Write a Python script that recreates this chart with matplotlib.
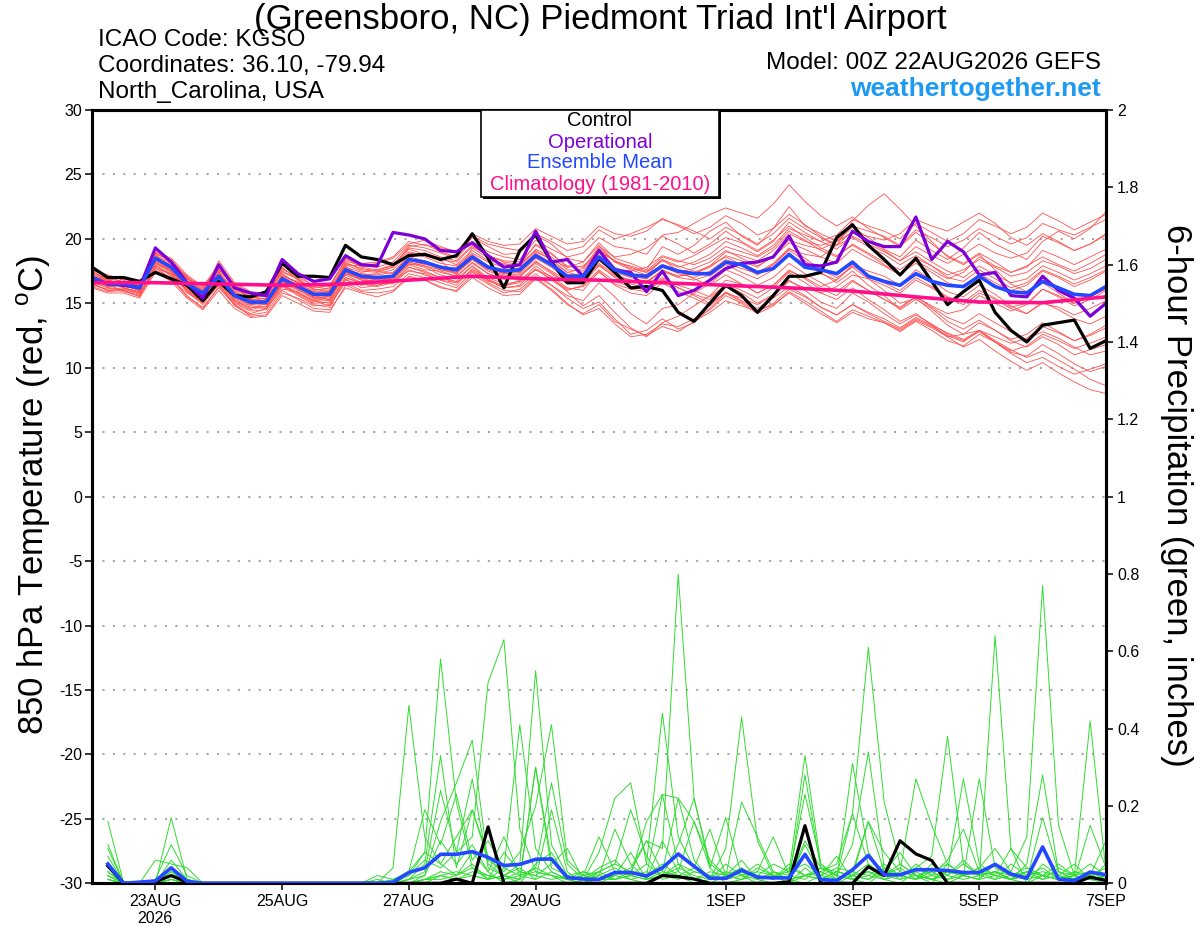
"""GEFS plume for KGSO: 850 hPa temperature (red) and 6-hour precipitation (green)."""
import matplotlib
matplotlib.use("Agg")
import matplotlib.pyplot as plt
from matplotlib.patches import Rectangle

plt.rcParams['font.family'] = ['Liberation Sans', 'DejaVu Sans']
plt.rcParams['mathtext.fontset'] = 'custom'
plt.rcParams['mathtext.rm'] = 'Liberation Sans'
plt.rcParams['axes.unicode_minus'] = False

# forecast hours (6-hourly, 00Z 22AUG2026 to 00Z 7SEP2026)
fhours_temp = list(range(0, 385, 6))
fhours_prcp = list(range(6, 385, 6))

# --- 850 hPa temperature, ensemble members (degC) ---
temp_members = [
    [17.5,16.8,16.2,15.9,18.2,17.5,16.0,15.0,17.5,15.2,14.6,15.0,17.2,16.6,15.4,15.9,
     17.8,17.4,17.6,17.9,19.2,18.8,18.3,17.2,19.3,18.5,18.0,17.9,19.6,18.9,17.8,18.2,
     19.7,18.5,18.1,17.6,19.4,18.8,19.5,20.6,21.3,20.2,19.5,20.8,22.5,21.0,20.4,19.8,
     20.9,20.1,19.2,18.6,19.9,19.1,18.4,19.3,20.5,19.6,19.0,18.4,19.8,20.6,20.0,20.8,22.1],
    [16.3,15.9,16.0,15.5,17.6,17.0,15.5,14.7,16.2,14.9,14.2,14.6,16.1,15.9,15.2,14.8,
     16.9,16.2,16.4,16.8,17.5,17.3,16.8,16.4,17.7,16.9,16.3,16.8,17.6,17.1,16.2,16.0,
     17.5,16.4,15.8,15.6,16.6,15.9,15.4,14.8,15.9,15.2,14.6,15.4,16.3,15.6,14.7,14.1,
     14.9,14.2,13.6,13.0,13.8,13.2,12.5,12.0,12.9,12.1,11.4,10.8,11.3,10.6,9.9,9.1,8.6],
    [17.2,16.6,16.7,16.4,18.9,18.3,16.9,16.4,17.6,16.3,15.4,15.6,17.4,16.9,16.1,16.0,
     18.2,17.6,17.5,17.3,18.8,18.9,18.5,18.0,19.1,18.3,18.1,17.8,19.2,18.6,17.6,17.5,
     19.3,18.2,17.9,17.5,18.6,18.2,18.7,19.4,20.1,19.7,19.0,19.8,21.3,20.5,19.8,19.2,
     20.2,19.6,19.0,18.3,19.4,18.7,18.1,18.8,19.6,18.9,18.5,18.9,20.2,19.7,19.1,19.6,20.3],
    [16.6,16.0,16.1,15.7,17.9,17.2,15.9,14.9,16.5,14.8,14.1,14.3,16.0,15.3,14.6,14.5,
     16.2,15.8,15.5,15.9,17.0,16.8,16.2,16.0,17.2,16.5,15.8,16.1,17.1,16.4,15.6,15.2,
     16.6,15.5,14.2,13.4,14.6,14.9,15.8,16.5,17.6,17.1,16.4,17.0,18.1,17.3,16.6,15.9,
     16.8,16.0,15.3,14.6,15.5,14.7,13.9,13.4,14.2,13.5,12.8,12.2,12.8,12.3,11.6,11.0,11.3],
    [17.6,17.2,16.8,16.3,18.7,18.2,17.1,16.2,17.8,16.0,15.5,15.3,17.1,16.7,16.2,16.4,
     18.3,17.9,17.8,18.2,19.5,19.3,18.9,18.5,19.8,19.0,18.6,18.4,19.9,19.2,18.6,18.9,
     20.1,19.4,19.2,18.8,20.3,20.5,21.2,21.9,22.4,22.0,21.6,22.7,24.2,22.9,21.8,21.0,
     21.7,20.8,20.1,19.4,20.5,19.6,18.7,18.1,18.9,18.2,17.4,17.9,18.6,18.0,17.5,18.1,18.8],
    [16.9,16.3,16.4,16.0,18.4,17.6,16.2,15.6,16.8,15.3,14.8,14.7,16.6,16.0,15.5,15.3,
     17.4,16.8,16.6,16.9,18.1,17.8,17.2,16.9,17.9,17.0,16.5,16.7,17.9,17.0,15.9,14.8,
     15.6,14.3,13.1,12.4,13.5,14.0,14.8,15.6,16.8,16.5,15.8,16.4,17.5,17.0,16.3,16.8,
     18.0,17.5,17.1,16.4,17.6,16.8,15.9,15.5,16.4,15.7,14.8,14.2,15.1,14.5,13.8,13.4,14.0],
    [17.3,16.7,16.5,16.1,18.6,17.9,16.6,15.9,17.3,15.8,15.3,15.2,16.8,16.2,15.6,15.5,
     17.6,17.3,17.2,17.4,18.6,18.3,17.7,17.8,18.8,17.9,17.6,17.5,18.9,18.1,17.2,17.3,
     18.7,17.8,17.3,17.0,18.0,17.6,17.4,17.9,19.0,18.7,18.3,19.1,20.4,19.8,19.5,19.9,
     21.0,20.6,20.2,19.5,20.7,20.1,19.4,19.9,20.8,20.2,19.6,20.1,21.2,20.7,20.3,20.9,21.5],
    [17.0,16.4,16.6,16.3,18.1,17.4,16.3,15.4,16.9,15.5,15.0,14.9,16.5,15.8,15.1,15.6,
     17.2,16.6,16.9,17.0,18.0,17.6,17.5,17.1,18.2,17.3,16.9,17.0,18.3,17.4,16.6,16.9,
     18.0,17.0,16.5,16.2,17.0,16.4,16.0,15.5,16.4,15.8,15.0,15.7,16.8,16.0,15.1,14.6,
     15.8,15.1,14.2,13.4,14.1,13.4,12.6,12.1,12.8,12.0,11.2,10.9,11.8,11.1,10.3,9.7,10.1],
    [17.4,16.9,16.3,16.1,19.0,18.5,17.2,16.3,18.0,16.5,15.8,15.7,17.6,17.2,16.3,16.1,
     18.0,17.9,18.1,18.5,19.6,19.9,19.4,19.0,20.2,19.6,19.3,19.1,20.4,19.8,19.1,19.4,
     20.7,20.0,20.4,20.9,21.5,21.1,20.6,20.0,20.9,20.3,19.6,20.4,21.6,20.8,20.1,19.5,
     20.6,19.8,19.1,18.3,19.0,18.2,17.5,17.0,17.9,17.2,16.6,16.9,17.9,17.4,16.8,17.3,17.9],
    [16.4,16.1,16.2,15.8,17.7,17.3,16.0,15.2,16.6,15.1,14.5,14.8,16.4,15.7,15.0,15.1,
     17.0,16.5,16.3,16.6,17.8,17.5,17.0,16.7,17.9,16.8,16.2,16.4,17.7,16.8,16.0,16.4,
     17.6,16.7,16.3,16.0,16.9,16.2,15.7,15.3,16.5,16.0,15.4,16.2,17.4,16.6,15.8,15.3,
     16.2,15.3,14.5,13.6,14.2,13.3,12.4,11.6,12.2,11.3,10.5,9.8,10.4,9.6,8.9,8.3,8.0],
    [17.1,16.5,16.9,16.6,18.8,17.7,16.7,16.0,17.2,16.1,15.6,15.5,17.3,16.5,15.9,15.8,
     17.9,17.0,16.8,17.1,18.4,18.0,17.9,17.6,18.5,17.7,17.3,17.4,18.6,18.2,17.4,17.1,
     18.4,17.6,17.5,17.8,18.7,18.3,18.0,18.5,19.4,19.0,18.6,19.3,20.6,19.9,19.1,18.6,
     19.6,18.9,18.2,17.6,18.5,17.9,17.2,17.6,18.4,17.8,17.1,17.4,18.3,17.9,17.3,17.7,18.4],
    [16.7,16.2,15.9,15.6,17.8,16.9,15.6,14.6,16.3,14.9,14.0,14.1,15.8,15.4,14.8,14.9,
     16.6,16.0,16.1,16.3,17.3,17.0,16.6,16.2,17.4,16.6,16.0,15.9,17.0,16.1,15.0,14.1,
     14.6,13.4,12.4,12.6,13.4,13.2,13.8,14.5,15.6,15.0,14.2,14.8,15.9,15.2,14.4,13.6,
     14.5,14.0,13.5,12.8,13.6,12.9,12.1,11.7,12.6,12.0,11.3,11.7,12.6,12.1,11.5,11.9,12.4],
    [17.8,17.1,16.6,16.2,18.5,18.0,16.8,15.7,17.4,15.9,15.2,15.4,17.0,16.4,15.8,15.7,
     17.7,17.2,17.3,17.6,18.9,18.6,18.1,17.9,18.9,18.2,17.8,17.7,19.0,18.4,17.8,17.9,
     19.0,18.3,17.8,17.4,18.3,17.8,18.2,18.8,19.8,19.3,18.7,19.5,20.8,20.3,19.8,20.3,
     21.5,21.0,20.6,20.0,21.2,20.5,19.8,20.4,21.5,21.0,20.4,20.9,22.0,21.4,20.7,21.3,21.9],
    [16.8,16.5,16.3,16.2,18.3,17.6,16.4,15.5,17.0,15.7,15.1,14.9,16.7,16.1,15.4,15.3,
     17.5,16.9,16.7,17.0,18.3,18.1,17.6,17.3,18.4,17.5,17.1,17.3,18.5,17.8,16.9,17.0,
     18.3,17.4,17.0,16.7,17.5,17.0,16.8,17.2,18.1,17.7,17.3,18.0,19.2,18.8,18.6,19.5,
     21.4,22.6,23.5,22.3,21.0,19.8,18.6,18.0,18.8,17.6,16.5,15.9,16.6,15.8,15.0,15.5,16.1],
    [16.5,16.0,16.1,15.8,17.5,16.8,15.8,15.1,16.4,15.0,14.4,14.5,16.3,15.6,14.9,14.7,
     16.8,16.4,16.6,16.5,17.6,17.2,16.8,16.6,17.5,16.7,16.4,16.6,17.6,16.9,16.1,16.3,
     17.4,16.5,16.1,15.9,16.8,16.2,15.6,15.0,15.8,15.1,14.4,14.9,15.8,15.0,14.2,13.5,
     14.3,13.8,13.5,12.9,13.7,13.1,12.4,12.6,13.5,12.9,12.2,12.6,13.5,12.8,12.1,12.5,13.1],
    [17.2,16.8,16.5,16.4,18.6,18.1,16.9,16.1,17.7,16.2,15.4,15.6,17.5,16.9,16.1,15.9,
     18.1,17.7,17.5,17.8,19.0,18.7,18.4,18.2,19.4,18.7,18.3,18.2,19.5,18.8,17.9,17.8,
     19.1,18.3,17.7,17.4,18.4,17.9,17.5,17.1,18.0,17.4,16.9,17.6,18.8,18.1,17.3,16.8,
     17.9,17.2,16.6,16.0,17.0,16.3,15.5,15.1,16.0,15.4,14.7,15.0,16.1,15.6,15.0,15.5,16.2],
    [17.5,16.7,16.2,15.9,18.8,18.4,17.0,15.8,18.3,16.6,15.9,15.8,17.8,16.8,16.0,16.2,
     18.5,17.8,17.6,18.0,19.3,19.1,18.6,18.3,19.5,18.7,18.2,18.0,19.1,18.4,17.4,17.7,
     19.4,18.6,18.8,19.3,20.2,19.6,18.9,19.6,20.6,19.8,19.1,19.9,21.0,20.1,19.3,18.7,
     19.5,18.8,18.0,17.3,18.1,17.4,16.6,16.2,17.3,16.6,16.0,16.4,17.5,17.0,16.3,16.8,17.5],
    [16.9,16.3,16.6,16.3,18.2,17.5,16.1,15.3,16.7,15.4,14.9,15.1,16.9,16.2,15.5,15.4,
     17.3,16.9,17.0,17.1,18.2,17.9,17.6,17.4,18.4,17.6,17.2,17.2,18.2,17.5,16.8,16.7,
     18.1,17.2,16.8,16.6,17.5,17.1,17.3,17.9,18.6,18.0,17.4,18.1,19.3,18.5,17.6,17.0,
     17.8,16.9,16.0,15.0,15.4,14.4,13.3,12.6,12.9,12.0,11.1,10.4,10.8,10.1,9.5,9.9,10.3],
    [16.6,16.6,16.4,16.0,18.0,17.1,16.5,15.8,16.8,15.6,15.2,15.0,16.6,16.3,15.7,15.6,
     17.4,17.0,16.9,16.8,18.0,18.1,17.8,17.5,18.6,17.9,17.4,17.6,18.6,18.0,17.1,17.0,
     18.5,17.5,17.1,16.9,17.8,17.4,17.7,18.2,19.1,18.5,17.9,18.6,19.7,19.2,18.6,18.1,
     19.2,18.5,17.9,17.2,18.3,17.6,16.9,17.4,18.6,17.9,17.4,17.8,19.1,18.6,18.0,18.6,19.2],
    [17.4,16.9,16.7,16.0,18.5,17.8,16.5,15.6,17.5,15.9,15.3,15.4,17.1,16.6,15.9,15.9,
     18.0,17.5,17.4,17.8,19.4,19.6,19.0,18.6,20.1,19.4,18.8,18.9,20.3,19.6,18.5,18.2,
     19.5,18.2,17.6,17.2,18.4,17.5,16.9,16.4,17.2,16.5,15.8,16.4,17.6,16.9,16.1,15.6,
     16.7,16.0,15.3,14.7,15.5,14.8,14.2,14.5,15.6,15.0,14.4,14.9,16.1,15.5,14.8,15.3,16.0],
    [16.8,16.4,16.0,15.6,17.9,17.3,16.0,15.1,16.6,15.2,14.7,14.6,16.4,15.8,15.2,15.0,
     17.0,16.6,16.4,16.7,17.8,17.4,17.0,16.6,17.6,16.8,16.2,16.3,17.3,16.4,15.4,14.6,
     15.1,13.8,12.6,12.9,13.8,13.0,13.5,14.6,15.8,15.4,14.9,15.6,16.7,16.2,15.8,16.3,
     17.2,16.9,16.4,15.8,16.8,16.2,15.4,14.9,15.8,15.3,14.6,14.2,15.0,14.7,14.1,14.6,15.2],
    [17.6,17.0,16.9,16.5,18.9,18.3,17.0,16.0,17.9,16.4,15.7,15.9,17.7,17.0,16.4,16.3,
     18.4,18.1,18.2,18.6,19.8,19.5,19.3,19.0,20.4,19.8,19.5,19.6,20.8,20.2,19.6,19.8,
     21.0,20.4,20.2,20.6,21.6,21.0,20.4,20.9,21.8,21.2,20.3,20.8,21.9,21.1,20.2,19.5,
     20.1,19.4,18.8,18.0,18.7,17.9,17.0,16.7,17.6,16.9,16.2,16.6,17.6,17.1,16.5,17.0,17.6],
    [17.1,16.7,16.4,16.1,18.4,17.9,16.6,15.7,17.2,15.7,15.0,15.3,17.0,16.4,15.6,15.6,
     17.7,17.1,16.9,17.2,18.4,18.1,17.7,17.4,18.5,17.8,17.3,17.5,18.7,17.9,17.0,17.2,
     18.6,17.7,17.2,16.9,17.9,17.3,17.0,17.5,18.4,17.9,17.2,18.0,19.1,18.3,17.4,16.6,
     17.5,16.4,15.6,14.5,15.3,14.6,13.6,13.0,13.7,12.9,12.1,11.6,12.4,11.8,11.0,11.4,11.8],
    [16.7,16.2,16.5,16.2,18.1,17.5,16.2,15.4,16.9,15.5,14.9,15.0,16.7,16.1,15.3,15.2,
     17.3,16.8,16.7,17.0,18.2,17.9,17.4,17.1,18.1,17.3,16.9,17.1,18.1,17.3,16.5,16.6,
     17.9,17.1,16.8,16.6,17.6,17.1,17.3,17.8,18.7,18.3,17.8,18.7,19.9,19.5,19.2,19.8,
     20.5,20.2,19.9,20.4,21.5,21.0,20.6,21.3,22.0,21.2,20.1,19.5,20.4,19.8,19.1,19.6,20.4],
    [16.2,15.8,15.8,15.4,17.4,16.7,15.4,14.5,16.0,14.6,13.9,14.0,15.6,15.0,14.4,14.3,
     16.4,15.9,15.8,16.0,17.1,16.8,16.3,15.9,17.0,16.2,15.6,15.7,16.9,16.0,14.9,14.2,
     14.9,13.6,13.0,12.5,13.2,12.8,13.6,14.3,15.2,14.8,14.4,15.0,16.1,15.5,14.7,14.1,
     14.9,14.3,13.8,13.1,13.9,13.3,12.7,12.2,12.9,12.4,11.9,12.3,13.2,12.7,12.1,12.6,13.3],
]

control_temp = [17.8,17.0,17.0,16.7,17.4,16.9,16.4,15.2,16.7,15.6,15.5,15.9,18.1,17.1,17.1,17.0,
                19.5,18.6,18.4,18.0,18.7,18.8,18.4,18.7,20.4,18.5,16.2,19.1,20.3,18.2,16.6,16.6,
                18.5,17.4,16.2,16.3,16.0,14.3,13.6,15.0,16.4,15.6,14.3,15.6,17.1,17.1,17.4,20.1,
                21.1,19.5,18.4,17.2,18.5,16.7,14.9,15.9,16.8,14.3,12.9,12.0,13.3,13.5,13.7,11.5,12.1]

oper_temp = [16.9,16.5,16.4,16.2,19.3,18.2,16.6,15.4,18.0,16.2,15.8,15.6,18.4,17.3,16.7,16.9,
             18.7,18.0,17.9,20.5,20.3,20.0,19.1,19.0,19.7,18.7,17.8,18.0,20.6,18.2,18.4,17.1,
             19.1,17.6,17.4,15.9,17.5,15.6,16.0,16.8,17.7,18.1,18.2,18.6,20.2,18.0,17.9,18.2,
             20.6,19.8,19.4,19.4,21.7,18.4,19.8,19.0,17.2,17.4,15.6,15.5,17.1,16.0,15.4,14.0,15.0]

mean_temp = [17.0,16.5,16.5,16.2,18.5,17.8,16.5,15.8,17.1,15.6,15.1,15.1,16.9,16.3,15.7,15.7,
             17.6,17.1,17.0,17.1,18.4,18.2,17.8,17.6,18.6,17.8,17.5,17.6,18.7,18.0,17.1,17.1,
             18.6,17.6,17.2,17.1,17.9,17.5,17.3,17.3,18.2,18.0,17.4,17.7,18.8,17.8,17.6,17.3,
             18.2,17.1,16.7,16.4,17.3,16.7,16.4,16.3,17.1,16.3,15.9,15.8,16.7,16.2,15.7,15.6,16.3]

# climatology (1981-2010), daily at 00Z
clim_hours = list(range(0, 385, 24))
clim_temp = [16.6,16.6,16.5,16.4,16.5,16.8,17.1,16.9,16.8,16.6,16.4,16.2,15.95,15.5,15.1,15.05,15.5]

# --- 6-hour precipitation (inches), ensemble members ---
prcp_members = [
    [0.16,0,0,0.01,0.10,0.02,0,0,0,0,0,0,0,0,0,0,
     0,0,0.04,0.46,0.12,0.05,0.02,0.08,0.03,0,0.01,0.04,0.02,0,0,0.01,
     0.03,0.01,0,0.02,0.05,0.01,0,0.02,0.06,0.01,0,0,0.04,0.01,0,0.02,
     0.05,0.01,0,0.03,0.01,0,0.02,0.04,0.09,0.03,0.12,0.77,0.15,0.02,0.01,0],
    [0.10,0,0,0,0.17,0.01,0,0,0,0,0,0,0,0,0,0,
     0,0,0,0.03,0.08,0.58,0.21,0.04,0.01,0.02,0,0.05,0.08,0.01,0,0,
     0.02,0.04,0.11,0.03,0.02,0,0.01,0.05,0.02,0,0.03,0.01,0,0.02,0.07,0.01,
     0,0.03,0.08,0.02,0,0.05,0.02,0.01,0.64,0.09,0,0.02,0.01,0,0.03,0.01],
    [0.09,0,0,0,0.06,0.01,0,0,0,0,0,0,0,0,0,0,
     0,0,0,0.01,0.05,0.33,0.04,0.19,0.07,0.02,0.04,0.01,0.19,0.03,0,0.02,
     0.14,0.05,0.01,0.02,0.10,0.22,0.04,0,0.01,0.02,0.05,0.03,0.33,0.05,0.01,0.31,
     0.08,0.02,0.04,0.01,0.05,0.02,0.06,0.02,0.03,0.01,0,0.05,0.02,0.01,0.15,0.04],
    [0.07,0,0,0,0.04,0.01,0,0,0,0,0,0,0,0,0,0,
     0,0,0,0,0.02,0.16,0.26,0.37,0.05,0.02,0.01,0.30,0.06,0.01,0.01,0.03,
     0.05,0.19,0.07,0.01,0.02,0.04,0.14,0.02,0.21,0.12,0.03,0.01,0.28,0.04,0.02,0.10,
     0.34,0.04,0.01,0.05,0.02,0.06,0.14,0.03,0.02,0.01,0.05,0.28,0.03,0.01,0.02,0.11],
    [0.05,0,0,0.06,0.05,0.04,0,0,0,0,0,0,0,0,0,0,
     0,0.01,0,0.02,0.06,0.04,0.08,0.12,0.52,0.63,0.14,0.03,0.02,0.01,0,0.03,
     0.01,0.03,0.02,0.05,0.02,0.01,0.03,0.02,0.01,0.04,0.02,0,0.02,0.01,0.03,0.02,
     0.01,0.03,0.02,0.01,0.04,0.02,0.05,0.02,0.03,0.01,0.02,0.04,0.01,0.02,0.42,0.03],
    [0.04,0,0,0,0.03,0.01,0,0,0,0,0,0,0,0,0,0,
     0,0.02,0.01,0.03,0.19,0.10,0.23,0.06,0.11,0.04,0.41,0.09,0.03,0.01,0.02,0.12,
     0.03,0.02,0.16,0.23,0.05,0.03,0.02,0.01,0.03,0.02,0.01,0.04,0.02,0.03,0.05,0.18,
     0.61,0.21,0.05,0.02,0.01,0.03,0.02,0.01,0.05,0.02,0.04,0.02,0.01,0.03,0.02,0.01],
    [0.03,0,0,0,0.03,0,0,0,0,0,0,0,0,0,0,0,
     0,0,0,0.01,0.03,0.24,0.08,0.27,0.04,0.02,0.05,0.55,0.10,0.02,0.01,0.04,
     0.06,0.02,0.01,0.03,0.22,0.06,0.01,0.03,0.02,0.05,0.02,0.01,0.10,0.02,0.04,0.03,
     0.16,0.08,0.03,0.27,0.15,0.05,0.02,0.03,0.01,0.05,0.02,0.03,0.02,0.05,0.01,0.02],
    [0.03,0,0,0,0.02,0,0,0,0,0,0,0,0,0,0,0,
     0,0,0.01,0.02,0.08,0.05,0.12,0.19,0.06,0.03,0.08,0.20,0.41,0.06,0.02,0.01,
     0.02,0.08,0.01,0.11,0.03,0.16,0.06,0.02,0.04,0.01,0.02,0.03,0.05,0.02,0.01,0.03,
     0.02,0.05,0.02,0.04,0.07,0.38,0.05,0.02,0.03,0.01,0.02,0.01,0.04,0.02,0.01,0.05],
    [0.02,0,0,0,0.02,0,0,0,0,0,0,0,0,0,0,0,
     0,0,0,0.01,0.02,0.11,0.05,0.10,0.03,0.12,0.02,0.04,0.26,0.05,0.01,0.08,
     0.22,0.26,0.05,0.02,0.01,0.03,0.02,0.01,0.04,0.01,0.03,0.02,0.23,0.05,0.02,0.01,
     0.03,0.02,0.05,0.02,0.01,0.03,0.27,0.05,0.02,0.09,0.04,0.02,0.01,0.03,0.02,0.04],
    [0.02,0,0,0,0.02,0,0,0,0,0,0,0,0,0,0,0,
     0,0,0,0,0.01,0.03,0.02,0.05,0.01,0.08,0.03,0.02,0.05,0.09,0.01,0.02,
     0.04,0.02,0.05,0.44,0.12,0.04,0.02,0.01,0.03,0.02,0.01,0.05,0.02,0.04,0.03,0.02,
     0.16,0.03,0.02,0.01,0.03,0.05,0.02,0.27,0.04,0.02,0.01,0.17,0.03,0.01,0.02,0.01],
    [0.02,0,0,0,0.01,0,0,0,0,0,0,0,0,0,0,0,
     0,0,0,0,0.01,0.02,0.01,0.03,0.02,0.01,0.02,0.01,0.03,0.01,0.02,0.03,
     0.05,0.03,0.11,0.09,0.80,0.22,0.05,0.02,0.01,0.03,0.02,0.01,0.02,0.03,0.01,0.02,
     0.03,0.01,0.02,0.04,0.02,0.01,0.03,0.02,0.01,0.02,0.03,0.02,0.01,0.02,0.01,0.02],
    [0.01,0,0,0,0.01,0,0,0,0,0,0,0,0,0,0,0,
     0,0,0,0,0.01,0.02,0.03,0.02,0.01,0.04,0.02,0.03,0.02,0.01,0.03,0.02,
     0.01,0.02,0.03,0.02,0.04,0.02,0.01,0.09,0.43,0.11,0.02,0.01,0.02,0.01,0.03,0.02,
     0.01,0.04,0.02,0.01,0.02,0.03,0.02,0.04,0.02,0.01,0.03,0.02,0.05,0.02,0.03,0.01],
    [0.01,0,0,0,0.01,0,0,0,0,0,0,0,0,0,0,0,
     0,0,0,0,0.01,0.01,0.02,0.04,0.02,0.01,0.03,0.02,0.01,0.02,0.01,0.01,
     0.02,0.01,0.02,0.23,0.22,0.16,0.04,0.17,0.02,0.01,0.02,0.01,0.11,0.04,0.02,0.18,
     0.05,0.02,0.01,0.02,0.03,0.01,0.02,0.01,0.02,0.01,0.03,0.01,0.02,0.01,0.01,0.02],
    [0.01,0,0,0,0.01,0,0,0,0,0,0,0,0,0,0,0,
     0,0,0,0,0,0.02,0.01,0.02,0.01,0.02,0.01,0.30,0.04,0.02,0.03,0.01,
     0.01,0.02,0.01,0.02,0.03,0.01,0.02,0.01,0.02,0.03,0.12,0.02,0.01,0.04,0.02,0.01,
     0.02,0.01,0.03,0.02,0.01,0.02,0.01,0.02,0.03,0.02,0.01,0.02,0.03,0.02,0.05,0.02],
]

control_prcp = [0.045,0,0,0.004,0.02,0.003,0,0,0,0,0,0,0,0,0,0,
                0,0,0,0,0,0,0.011,0,0.146,0,0,0,0,0,0,0,
                0,0,0,0.02,0.017,0.011,0,0,0,0,0,0.004,0.149,0,0,0,
                0.043,0.02,0.11,0.076,0.059,0,0,0,0,0,0,0,0,0,0.016,0.007]

mean_prcp = [0.05,0,0.003,0.006,0.04,0.005,0,0,0,0,0,0,0,0,0,0,
             0,0,0.003,0.028,0.040,0.075,0.075,0.082,0.067,0.046,0.049,0.062,0.063,0.015,0.011,0.010,
             0.028,0.028,0.019,0.040,0.076,0.044,0.013,0.013,0.034,0.016,0.014,0.014,0.075,0.010,0.007,0.035,
             0.072,0.022,0.022,0.035,0.035,0.033,0.028,0.028,0.049,0.024,0.013,0.094,0.011,0.007,0.029,0.022]

xtick_hours = [24, 72, 120, 168, 240, 288, 336, 384]
xtick_labels = ['23AUG\n2026', '25AUG', '27AUG', '29AUG', '1SEP', '3SEP', '5SEP', '7SEP']
ptick_vals = [0, 0.2, 0.4, 0.6, 0.8, 1, 1.2, 1.4, 1.6, 1.8, 2]
ptick_labels = ['0', '0.2', '0.4', '0.6', '0.8', '1', '1.2', '1.4', '1.6', '1.8', '2']

C_RED = "#ff5050"
C_GREEN = "#2fdc2f"
C_PURPLE = "#7e00d8"
C_BLUE = "#2348ff"
C_PINK = "#ff0f8a"

W, H = 1200, 927
fig = plt.figure(figsize=(W / 100, H / 100), dpi=100)
ax = fig.add_axes([92 / W, 1 - 883.3 / H, (1106 - 92) / W, (883.3 - 110) / H])
ax2 = ax.twinx()

# temperatura
for m in temp_members:
    ax.plot(fhours_temp, m, color=C_RED, lw=0.6, zorder=2)
ax.plot(fhours_temp, control_temp, color="k", lw=2.3, zorder=3)
ax.plot(fhours_temp, oper_temp, color=C_PURPLE, lw=2.3, zorder=4)
ax.plot(fhours_temp, mean_temp, color=C_BLUE, lw=2.6, zorder=5)
ax.plot(clim_hours, clim_temp, color=C_PINK, lw=2.6, zorder=6)

# precipitacion
for p in prcp_members:
    ax2.plot(fhours_prcp, p, color=C_GREEN, lw=0.7, zorder=2)
ax2.plot(fhours_prcp, mean_prcp, color=C_BLUE, lw=2.6, zorder=4)
ax2.plot(fhours_prcp, control_prcp, color="k", lw=2.3, zorder=3)

ax.set_xlim(0, 384)
ax.set_ylim(-30, 30)
ax2.set_ylim(0, 2)
ax.set_yticks(range(-30, 31, 5))
ax.set_xticks(xtick_hours)
ax.set_xticklabels(xtick_labels, linespacing=1.15)
ax2.set_yticks(ptick_vals)
ax2.set_yticklabels(ptick_labels)
ax.yaxis.grid(True, color="#a8a8a8", linestyle=(0, (1, 4)), lw=1.5)
ax.set_axisbelow(True)

for a in (ax, ax2):
    for s in a.spines.values():
        s.set_linewidth(2.2)
ax.tick_params(axis="y", direction="out", length=5, width=1.1, pad=2, labelsize=11.5)
ax.tick_params(axis="x", direction="out", length=5, width=1.1, pad=3, labelsize=11.5)
ax2.tick_params(axis="y", direction="out", length=5, width=1.1, pad=3, labelsize=11.5)

# textos
fig.text(600 / W, 1 - 19 / H, "(Greensboro, NC) Piedmont Triad Int'l Airport",
         ha="center", va="center", fontsize=25)
fig.text(98 / W, 1 - 40 / H, "ICAO Code: KGSO", ha="left", va="center", fontsize=17.5)
fig.text(98 / W, 1 - 66 / H, "Coordinates: 36.10, -79.94", ha="left", va="center", fontsize=17.5)
fig.text(98 / W, 1 - 92 / H, "North_Carolina, USA", ha="left", va="center", fontsize=17.5)
fig.text(1101 / W, 1 - 63 / H, "Model: 00Z 22AUG2026 GEFS", ha="right", va="center", fontsize=17.5)
fig.text(1101 / W, 1 - 89 / H, "weathertogether.net", ha="right", va="center",
         fontsize=19, fontweight="bold", color="#1e9af2")
fig.text(34 / W, 1 - 495 / H, "850 hPa Temperature (red, $^{\\mathrm{o}}$C)", rotation=90,
         ha="center", va="center", fontsize=25)
fig.text(1177 / W, 1 - 495 / H, "6-hour Precipitation (green, inches)", rotation=-90,
         ha="center", va="center", fontsize=25)

# leyenda
bx0, by0, bw, bh = 481, 110, 238, 87
fig.add_artist(Rectangle(((bx0 + 2) / W, 1 - (by0 + bh + 2) / H), bw / W, bh / H,
                         transform=fig.transFigure, fc="k", ec="k", lw=0, zorder=5))
fig.add_artist(Rectangle((bx0 / W, 1 - (by0 + bh) / H), bw / W, bh / H,
                         transform=fig.transFigure, fc="white", ec="k", lw=1.2, zorder=6))
leg = [("Control", "k", 121), ("Operational", C_PURPLE, 142),
       ("Ensemble Mean", C_BLUE, 163), ("Climatology (1981-2010)", C_PINK, 185)]
for txt, col, yy in leg:
    fig.text(600 / W, 1 - yy / H, txt, ha="center", va="center", fontsize=14.5,
             color=col, zorder=7)

fig.savefig("out.png", dpi=100)
